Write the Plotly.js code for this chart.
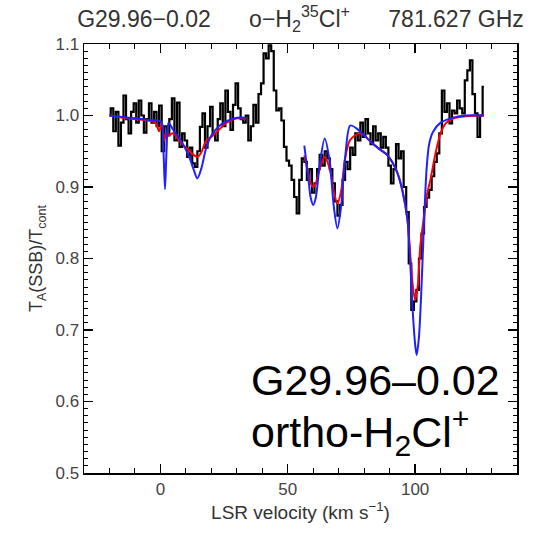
<!DOCTYPE html>
<html>
<head>
<meta charset="utf-8">
<script src="https://cdn.plot.ly/plotly-3.0.1.min.js"></script>
<style>html,body{margin:0;padding:0;background:#fff;}#plot{width:540px;height:538px;}</style>
</head>
<body>
<div id="plot"></div>
<script>
// Observed spectrum (black histogram)
const velocity = [];
for (let v = -20; v <= 127; v++) velocity.push(v);
const observed = [
1.000,1.010,0.978,1.005,0.958,0.990,1.028,0.995,0.975,1.005,
1.017,0.990,1.021,1.000,0.976,0.995,1.017,0.990,1.005,0.985,
1.014,0.950,0.985,0.972,0.995,1.024,0.965,1.018,0.956,0.975,
0.965,0.942,0.955,0.933,0.928,0.950,0.984,1.003,0.955,0.985,
1.012,0.975,0.965,0.995,1.017,0.985,1.035,1.005,0.980,1.015,
1.045,1.010,0.995,0.990,1.000,0.965,0.985,1.015,0.990,1.030,
1.045,1.087,1.080,1.098,1.090,1.035,1.007,1.010,0.993,0.956,
0.937,0.930,0.910,0.886,0.863,0.910,0.940,0.935,0.910,0.925,
0.892,0.905,0.925,0.945,0.930,0.950,0.940,0.925,0.905,0.880,
0.860,0.875,0.910,0.935,0.925,0.955,0.945,0.975,0.965,0.990,
0.970,0.995,0.975,0.960,0.985,0.965,0.975,0.955,0.970,0.955,
0.930,0.905,0.925,0.960,0.940,0.950,0.900,0.865,0.793,0.728,
0.740,0.756,0.800,0.835,0.872,0.885,0.896,0.915,0.935,0.947,
0.975,1.035,1.005,1.017,0.989,1.007,1.003,1.021,1.010,1.003,
1.049,1.063,1.077,1.030,1.003,0.970,1.000,1.040
];

// Model 1 (red), two velocity segments
const redV1 = [-20,-15,-10,-5,-2,-0.5,0.5,1.5,2.2,3,5,8,11,13,14.5,16,18,20,23,26,30,33.5];
const redT1 = [1.0,0.997,0.995,0.993,0.99,0.978,0.99,0.965,0.975,0.972,0.975,0.962,0.952,0.945,0.942,0.948,0.965,0.97,0.98,0.99,0.996,0.995];
const redV2 = [56.5,58,59,60,61,62.5,64.5,66.5,68,69.5,71,72.5,74.5,78,80,83,86,89,91,93,95,97,98,99,100,101,102,103.3,104.7,106,108,110,112,115,120,127];
const redT2 = [0.944,0.92,0.905,0.9,0.905,0.925,0.942,0.925,0.895,0.877,0.895,0.94,0.966,0.975,0.972,0.962,0.953,0.945,0.935,0.92,0.895,0.854,0.81,0.765,0.742,0.76,0.816,0.854,0.89,0.91,0.947,0.975,0.989,0.996,0.999,1.0];

// Model 2 (blue), two velocity segments
const blueV1 = [-20,-15,-10,-5,-1,0.5,1.2,1.8,2.4,3.2,5,8,11,13,14.5,16,18,20,23,26,30,33.5];
const blueT1 = [1.0,0.998,0.996,0.994,0.993,0.99,0.95,0.897,0.95,0.99,0.98,0.965,0.945,0.925,0.912,0.925,0.955,0.972,0.985,0.992,0.997,0.997];
const blueV2 = [56.5,58,59,60,61,62.5,64.5,66.5,68,69.5,71,72.5,74.5,77,80,83,86,89,91,93,95,97,98,99,100,100.6,101.5,102.5,103.5,104.5,105.5,107,110,115,120,127];
const blueT2 = [0.958,0.915,0.885,0.875,0.885,0.93,0.968,0.935,0.875,0.842,0.875,0.94,0.986,0.982,0.972,0.962,0.953,0.945,0.935,0.92,0.895,0.854,0.80,0.73,0.68,0.665,0.69,0.76,0.85,0.925,0.96,0.977,0.99,0.997,1.0,1.0];

const xTickVals = [0, 50, 100];
const yTickVals = [0.5, 0.6, 0.7, 0.8, 0.9, 1.0, 1.1];
const yTickText = ['0.5','0.6','0.7','0.8','0.9','1.0','1.1'];

const traces = [
  {x: velocity, y: observed, mode: 'lines', line: {color: '#000', width: 2.2, shape: 'hvh'}, hoverinfo: 'skip'},
  {x: redV1, y: redT1, mode: 'lines', line: {color: '#ff0000', width: 2, shape: 'spline', smoothing: 0.8}},
  {x: redV2, y: redT2, mode: 'lines', line: {color: '#ff0000', width: 2, shape: 'spline', smoothing: 0.8}},
  {x: blueV1, y: blueT1, mode: 'lines', line: {color: '#2020ff', width: 2, shape: 'spline', smoothing: 0.8}},
  {x: blueV2, y: blueT2, mode: 'lines', line: {color: '#2020ff', width: 2, shape: 'spline', smoothing: 0.8}}
];

const FONT = 'Liberation Sans, Arial, sans-serif';
const tickFont = {family: FONT, size: 17, color: '#444'};
const SP = '\u00a0\u00a0\u00a0\u00a0\u00a0\u00a0';

const layout = {
  width: 540, height: 538,
  margin: {l: 84, r: 23, t: 44, b: 65},
  paper_bgcolor: '#fff', plot_bgcolor: '#fff',
  showlegend: false,
  title: {
    text: 'G29.96\u22120.02' + SP + 'o\u2212H<sub>2</sub><sup>35</sup>Cl<sup>+</sup>' + SP + '781.627 GHz',
    font: {family: FONT, size: 23, color: '#333'},
    x: 0.5, xref: 'paper', xanchor: 'center',
    y: 0.965, yref: 'container', yanchor: 'middle'
  },
  xaxis: {
    range: [-30, 140], tickvals: xTickVals, ticks: 'inside', ticklen: 9, tickwidth: 1.3, tickcolor: '#000',
    minor: {dtick: 10, tick0: 0, ticks: 'inside', ticklen: 5, tickwidth: 1, tickcolor: '#000'},
    showline: true, linecolor: '#000', linewidth: 1.5, mirror: 'ticks',
    showgrid: false, zeroline: false, tickfont: tickFont,
    title: {text: 'LSR velocity (km s<sup>\u22121</sup>)', font: {family: FONT, size: 19, color: '#333'}, standoff: 4}
  },
  yaxis: {
    range: [0.5, 1.1], tickvals: yTickVals, ticktext: yTickText, ticks: 'inside', ticklen: 9, tickwidth: 1.3, tickcolor: '#000',
    minor: {dtick: 0.01, tick0: 0.5, ticks: 'inside', ticklen: 4, tickwidth: 1, tickcolor: '#000'},
    showline: true, linecolor: '#000', linewidth: 1.5, mirror: 'ticks',
    showgrid: false, zeroline: false, tickfont: tickFont,
    title: {text: 'T<sub>A</sub>(SSB)/T<sub>cont</sub>', font: {family: FONT, size: 18, color: '#333'}, standoff: 8}
  },
  annotations: [
    {text: 'G29.96\u20130.02', xref: 'paper', yref: 'paper', x: 0.38, y: 0.217, xanchor: 'left', yanchor: 'middle',
     showarrow: false, font: {family: FONT, size: 43, color: '#000'}},
    {text: 'ortho-H<sub>2</sub>Cl<sup>+</sup>', xref: 'paper', yref: 'paper', x: 0.38, y: 0.095, xanchor: 'left', yanchor: 'middle',
     showarrow: false, font: {family: FONT, size: 43, color: '#000'}}
  ]
};

Plotly.newPlot('plot', traces, layout, {displayModeBar: false, staticPlot: true});
</script>
</body>
</html>
